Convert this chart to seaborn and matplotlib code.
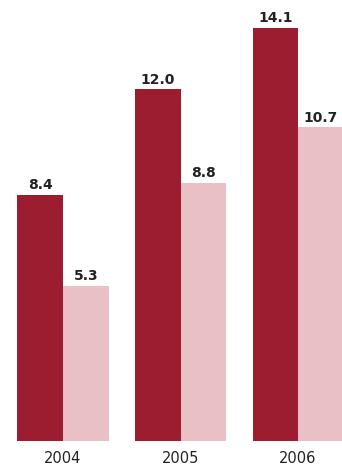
import matplotlib
matplotlib.use("Agg")
import matplotlib.pyplot as plt
import seaborn as sns
import pandas as pd

years = ["2004", "2005", "2006"]
series_a = [8.4, 12.0, 14.1]
series_b = [5.3, 8.8, 10.7]
series_names = ["A", "B"]
colors = ["#9c1c30", "#e9c0c5"]

df = pd.DataFrame({
    "year": years * 2,
    "series": [series_names[0]] * 3 + [series_names[1]] * 3,
    "value": series_a + series_b,
})

sns.set_theme(style="white")
plt.rcParams["font.family"] = ["DejaVu Sans"]

fig = plt.figure(figsize=(3.42, 4.68), dpi=100)
ax = fig.add_axes([0, 27 / 468, 1, 441 / 468])

sns.barplot(data=df, x="year", y="value", hue="series", palette=colors,
            width=0.775, gap=0, legend=False, ax=ax, saturation=1,
            linewidth=0, edgecolor="none")

for container, vals in zip(ax.containers, [series_a, series_b]):
    for patch, v in zip(container.patches, vals):
        ax.annotate(f"{v:.1f}",
                    (patch.get_x() + patch.get_width() / 2, patch.get_height()),
                    xytext=(0, 2), textcoords="offset points",
                    ha="center", va="bottom", fontsize=10, fontweight="bold",
                    color="#222222")

ax.set_xlim(-0.536, 2.374)
ax.set_ylim(0, 15.05)
ax.set_xlabel("")
ax.set_ylabel("")
ax.set_yticks([])
ax.tick_params(axis="x", length=0, pad=7, labelsize=10.5, labelcolor="#222222")
for s in ax.spines.values():
    s.set_visible(False)

fig.savefig("out.png", dpi=100)
